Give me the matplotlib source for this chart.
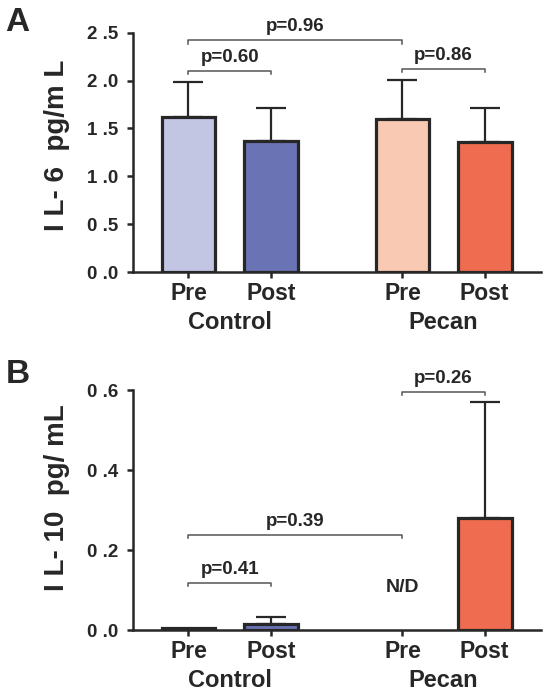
import numpy as np
import matplotlib
matplotlib.use('Agg')
import matplotlib.pyplot as plt

plt.rcParams['font.family'] = ['Liberation Sans', 'DejaVu Sans']
plt.rcParams['font.weight'] = 'bold'

# data
groups = ['Control', 'Pecan']
times = ['Pre', 'Post', 'Pre', 'Post']
colors = ['#c3c6e3', '#6a74b4', '#f9c9b4', '#ef6c50']

il6_mean = [1.62, 1.37, 1.60, 1.36]
il6_sd = [0.36, 0.34, 0.41, 0.35]
il6_ticks = [0.0, 0.5, 1.0, 1.5, 2.0, 2.5]
il6_ticklabels = ['0 .0', '0 .5', '1 .0', '1 .5', '2 .0', '2 .5']

il10_mean = [0.006, 0.014, 0.0, 0.279]
il10_sd = [0.0, 0.018, 0.0, 0.29]
il10_ticks = [0.0, 0.2, 0.4, 0.6]
il10_ticklabels = ['0 .0', '0 .2', '0 .4', '0 .6']

# brackets: (i, j, height, text)
il6_brackets = [(0, 2, 2.42, 'p=0.96'), (0, 1, 2.10, 'p=0.60'), (2, 3, 2.12, 'p=0.86')]
il10_brackets = [(2, 3, 0.596, 'p=0.26'), (0, 2, 0.2375, 'p=0.39'), (0, 1, 0.117, 'p=0.41')]

pos = np.array([0, 1, 2.58, 3.57])
dark = '#272727'

fig = plt.figure(figsize=(5.5, 6.98), dpi=100)
axA = fig.add_axes([0.2424, 0.6103, 0.7412, 0.3429])
axB = fig.add_axes([0.2424, 0.0974, 0.7412, 0.3438])


def draw(ax, mean, sd, ticks, ticklabels, ymax, brackets, ylabel, tick_h, label_y, skip=()):
    for k in range(4):
        if k in skip:
            continue
        ax.bar(pos[k], mean[k], width=0.65, color=colors[k], edgecolor=dark,
               linewidth=2.3, zorder=2)
        if sd[k] > 0:
            ax.errorbar(pos[k], mean[k], yerr=[[0], [sd[k]]], fmt='none',
                        ecolor=dark, elinewidth=1.6, capsize=10.5, capthick=1.6, zorder=1)
    for i, j, h, txt in brackets:
        ax.plot([pos[i], pos[i], pos[j], pos[j]], [h - tick_h, h, h, h - tick_h],
                color='#555555', lw=1.1, clip_on=False)
        ax.annotate(txt, xy=((pos[i] + pos[j]) / 2, h), xytext=(0, 3.5),
                    textcoords='offset points', ha='center', va='bottom',
                    fontsize=13.5, color=dark, fontweight='bold')
    ax.set_xlim(-0.665, 4.25)
    ax.set_ylim(0, ymax)
    ax.set_yticks(ticks)
    ax.set_yticklabels(ticklabels, fontsize=13.5, fontweight='bold', color=dark)
    ax.set_xticks(pos)
    ax.set_xticklabels(times, fontsize=16.5, fontweight='bold', color=dark)
    ax.tick_params(axis='both', direction='out', length=4.5, width=1.8, color=dark)
    ax.tick_params(axis='y', pad=6)
    ax.tick_params(axis='x', pad=3)
    for s in ['top', 'right']:
        ax.spines[s].set_visible(False)
    for s in ['left', 'bottom']:
        ax.spines[s].set_linewidth(1.8)
        ax.spines[s].set_color(dark)
    ax.set_ylabel(ylabel, fontsize=20, fontweight='bold', color=dark)
    ax.yaxis.set_label_coords(-0.156, label_y)
    for g, xc in zip(groups, [(pos[0] + pos[1]) / 2, (pos[2] + pos[3]) / 2]):
        ax.annotate(g, xy=(xc, 0), xycoords=('data', 'axes fraction'),
                    xytext=(0, -36.5), textcoords='offset points', ha='center', va='center',
                    fontsize=17, fontweight='bold', color=dark)


draw(axA, il6_mean, il6_sd, il6_ticks, il6_ticklabels, 2.5, il6_brackets,
     'I L- 6  pg/m L', 0.035, 0.53)
draw(axB, il10_mean, il10_sd, il10_ticks, il10_ticklabels, 0.6, il10_brackets,
     'I L- 10  pg/ mL', 0.0075, 0.55, skip=(2,))
axB.text(pos[2], 0.107, 'N/D', ha='center', va='center', fontsize=14,
         fontweight='bold', color=dark)

fig.text(0.009, 0.99, 'A', fontsize=24, fontweight='bold', color=dark, va='top')
fig.text(0.011, 0.485, 'B', fontsize=24, fontweight='bold', color=dark, va='top')

fig.savefig('out.png', dpi=100, facecolor='white')
